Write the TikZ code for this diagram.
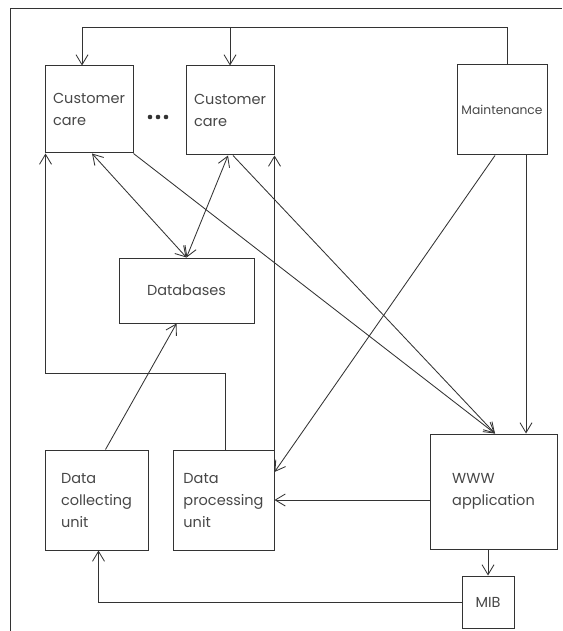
\documentclass[tikz,border=0pt]{standalone}
\usepackage{fontspec}
\setmainfont{Poppins}
\usetikzlibrary{arrows.meta}
\definecolor{ink}{gray}{0.2}
\definecolor{txt}{gray}{0.28}
\begin{document}
\begin{tikzpicture}[x=1pt,y=-1pt,
  box/.style={draw=ink, line width=1pt, inner sep=0pt, align=left, text=txt,
              font=\fontsize{14.5}{22}\selectfont},
  barb/.tip={Straight Barb[length=10pt,width=12pt]},
  conn/.style={draw=ink, line width=0.85pt, -barb},
  dconn/.style={draw=ink, line width=0.85pt, barb-barb}]
\useasboundingbox (0,0) rectangle (562,631);

% outer frame (left and top edges)
\draw[ink, line width=1pt] (10,631) -- (10,9) -- (562,9);

% blocks
\node[box, minimum width=88pt, minimum height=87pt]  (cc1)   at (89,109.5)  {Customer\\care};
\node[box, minimum width=88pt, minimum height=89pt]  (cc2)   at (230,110.5) {Customer\\care};
\node[box, minimum width=90pt, minimum height=90pt, font=\fontsize{12.3}{14}\selectfont]
                                                      (maint) at (502,110)   {Maintenance};
\node[box, minimum width=135pt, minimum height=65pt] (db)    at (186.5,290.5) {Databases};
\node[box, minimum width=103pt, minimum height=100pt] (dcu)  at (96.5,500)  {Data\\collecting\\unit};
\node[box, minimum width=101pt, minimum height=100pt] (dpu)  at (223.5,500) {Data\\processing\\unit};
\node[box, minimum width=127pt, minimum height=115pt] (www)  at (493.5,491.5) {WWW\\application};
\node[box, minimum width=52pt, minimum height=52pt]  (mib)   at (488,602)   {MIB};

% ellipsis between the customer care blocks
\fill[ink] (150,117) circle (2.3pt) (158,117) circle (2.3pt) (166,117) circle (2.3pt);

% helper levels for the routed lines
\coordinate (bus)  at (0,27);
\coordinate (loop) at (0,373);

% maintenance feedback to the customer care blocks
\draw[conn] ([xshift=5pt]maint.north) |- ([xshift=-7pt]cc1.north |- bus) -- ([xshift=-7pt]cc1.north);
\draw[conn] (cc2.north |- bus) -- (cc2.north);

% processing unit back to customer care
\draw[conn] ([xshift=1.5pt]dpu.north) -- ([xshift=1.5pt]dpu.north |- loop) -| ([xshift=1pt]cc1.south west);
\draw[conn] (dpu.north east) -- (cc2.south east);

% customer care <-> databases
\draw[dconn] ([xshift=3pt]cc1.south) -- (db.north);
\draw[dconn] ([xshift=-2pt]cc2.south) -- (db.north);

% customer care -> WWW application
\draw[conn] (cc1.south east) -- ([xshift=1.5pt]www.north);
\draw[conn] ([xshift=3pt]cc2.south) -- ([xshift=1.5pt]www.north);

% maintenance outputs
\draw[conn] ([xshift=-7pt]maint.south) -- ([yshift=28pt]dpu.east);
\draw[conn] ([xshift=24pt]maint.south) -- ([xshift=24pt]maint.south |- www.north);

% WWW application outputs
\draw[conn] (www.west |- dpu.east) -- (dpu.east);
\draw[conn] (www.south -| mib.north) -- (mib.north);

% MIB back to the collecting unit
\draw[conn] (mib.west) -| ([xshift=2pt]dcu.south);

% collecting unit -> databases
\draw[conn] ([xshift=9pt]dcu.north) -- ([xshift=-10pt]db.south);
\end{tikzpicture}
\end{document}
